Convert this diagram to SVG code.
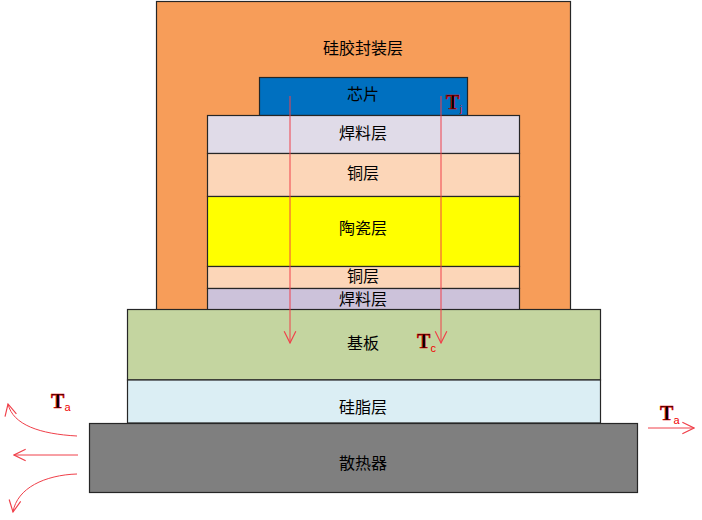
<svg xmlns="http://www.w3.org/2000/svg" width="702" height="520" viewBox="0 0 702 520">
<style>
.l{stroke:#262626;stroke-width:1.2}
.t{font-family:"Noto Sans CJK SC","Noto Sans CJK JP",sans-serif;font-size:16px;fill:#000;text-anchor:middle}
.T{font-family:"Liberation Serif",serif;font-weight:bold;font-size:20px;fill:#000;stroke:#e00000;stroke-width:.6}
.s{font-family:"Liberation Sans",sans-serif;font-size:11px;fill:#f00000}
.a{fill:none;stroke:#f0404a;stroke-width:1}
</style>
<defs>
<marker id="h" markerUnits="userSpaceOnUse" markerWidth="14" markerHeight="14" refX="11" refY="6" orient="auto" viewBox="0 0 12 12"><path d="M1 1L11 6L1 11" fill="none" stroke="#f0404a" stroke-width="1"/></marker>
</defs>
<rect width="702" height="520" fill="#fff"/>
<g id="silicone"><rect class="l" x="156.500" y="1.500" width="414" height="309" fill="#f79d59"/><text class="t" x="363" y="54">硅胶封装层</text></g>
<g id="chip"><rect class="l" x="259.500" y="77.500" width="208" height="38" fill="#0070c0"/><text class="t" x="363" y="100">芯片</text></g>
<g id="solder1"><rect class="l" x="207.500" y="115.500" width="312" height="38" fill="#e0dbe8"/><text class="t" x="363" y="139">焊料层</text></g>
<g id="copper1"><rect class="l" x="207.500" y="153.500" width="312" height="43" fill="#fcd6b8"/><text class="t" x="363" y="179">铜层</text></g>
<g id="ceramic"><rect class="l" x="207.500" y="196.500" width="312" height="70" fill="#ffff00"/><text class="t" x="363" y="234">陶瓷层</text></g>
<g id="copper2"><rect class="l" x="207.500" y="266.500" width="312" height="22" fill="#fcd6b8"/><text class="t" x="363" y="282">铜层</text></g>
<g id="solder2"><rect class="l" x="207.500" y="288.500" width="312" height="22" fill="#ccc2da"/><text class="t" x="363" y="305">焊料层</text></g>
<g id="base"><rect class="l" x="127.500" y="309.500" width="473" height="70.500" fill="#c4d5a0"/><text class="t" x="363" y="349">基板</text></g>
<g id="grease"><rect class="l" x="127.500" y="380" width="473" height="43" fill="#dbeef4"/><text class="t" x="363" y="413">硅脂层</text></g>
<g id="sink"><rect class="l" x="89.500" y="423.500" width="548" height="69" fill="#7f7f7f"/><text class="t" x="363" y="469">散热器</text></g>
<g id="connectors">
<path class="a" marker-end="url(#h)" d="M290 96V343"/>
<path class="a" marker-end="url(#h)" d="M441 96V343"/>
<path class="a" marker-end="url(#h)" d="M77 436C40 434 13 425 8 404"/>
<path class="a" marker-end="url(#h)" d="M78 455H14"/>
<path class="a" marker-end="url(#h)" d="M77 474C45 475 17 488 13 512"/>
<path class="a" marker-end="url(#h)" d="M648 428H694"/>
</g>
<g id="labels">
<text class="T" x="446" y="109">T</text><text class="s" x="460" y="112" style="font-size:9px">j</text>
<text class="T" x="417" y="348">T</text><text class="s" x="430.500" y="352">c</text>
<text class="T" x="51" y="408">T</text><text class="s" x="64.500" y="411">a</text>
<text class="T" x="660" y="420">T</text><text class="s" x="673.500" y="424">a</text>
</g>
</svg>
